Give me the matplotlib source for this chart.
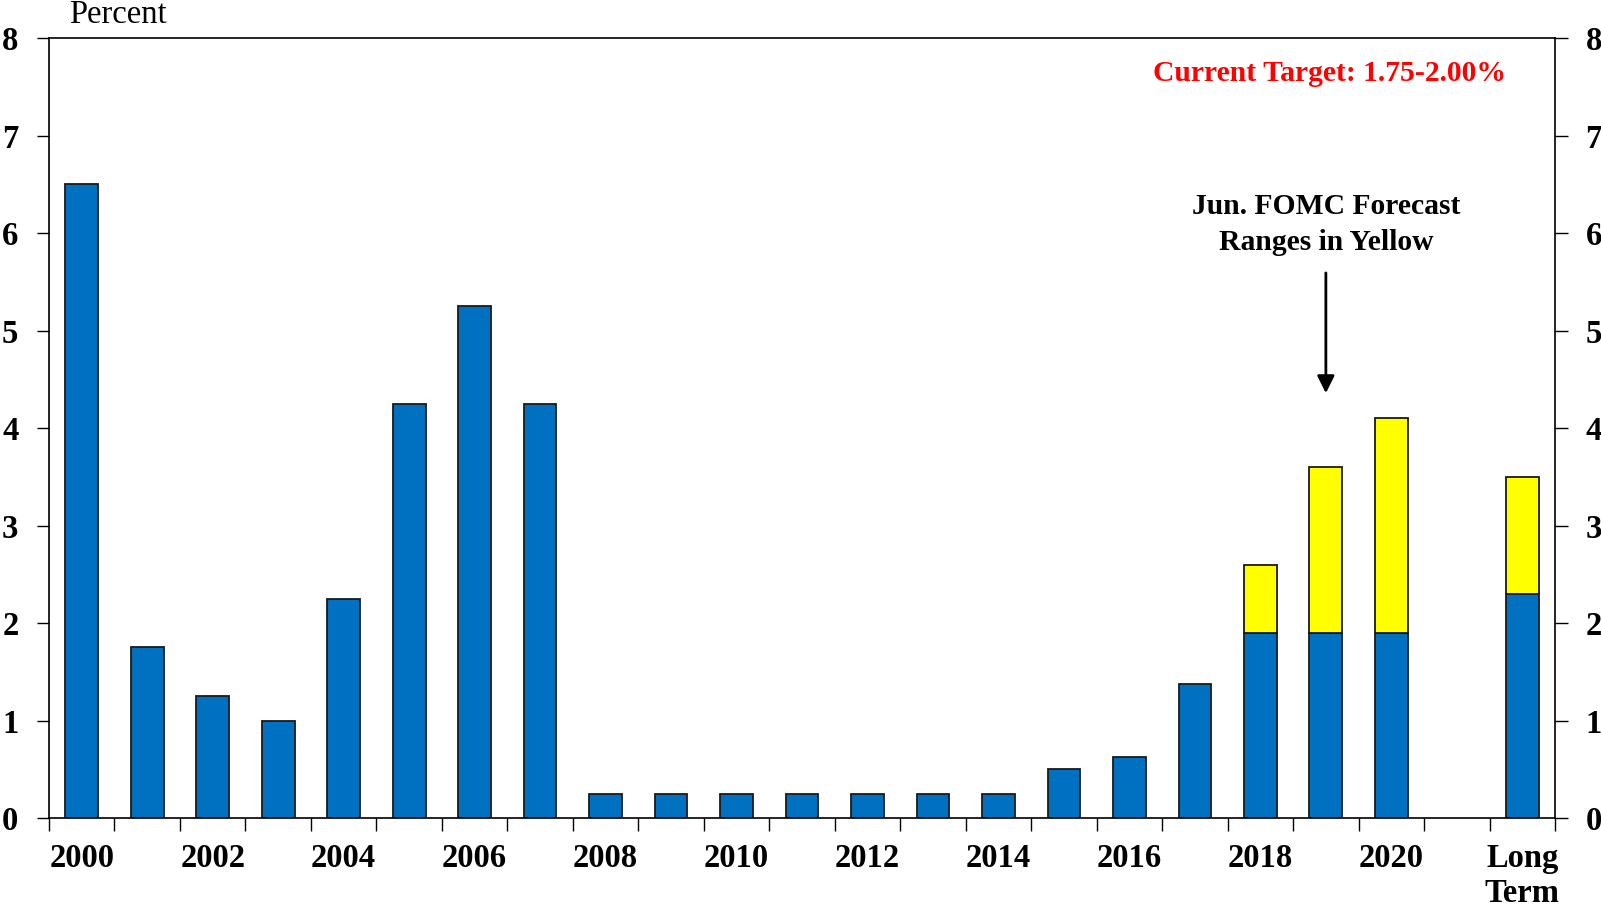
import numpy as np
import matplotlib.pyplot as plt

# Fed funds rate (year-end) and FOMC forecast ranges
categories = [str(y) for y in range(2000, 2021)] + ['', 'Long\nTerm']
rate = [6.5, 1.75, 1.25, 1.0, 2.25, 4.25, 5.25, 4.25, 0.25, 0.25, 0.25, 0.25,
        0.25, 0.25, 0.25, 0.5, 0.625, 1.375, 1.9, 1.9, 1.9, 0, 2.3]
forecast_top = [0] * 18 + [2.6, 3.6, 4.1, 0, 3.5]
tick_labels = [c if (i % 2 == 0 or i == 22) and i != 21 else '' for i, c in enumerate(categories)]

plt.rcParams['font.family'] = 'Liberation Serif'
plt.rcParams['font.weight'] = 'bold'

fig = plt.figure(figsize=(16.01, 9.07), dpi=100)
ax = fig.add_axes([0.0306, 0.098, 0.9407, 0.860])

x = np.arange(len(categories))
rate = np.array(rate)
forecast_top = np.array(forecast_top)
yellow = np.where(forecast_top > 0, forecast_top - rate, 0)
mask = rate > 0
ax.bar(x[mask], rate[mask], width=0.5, color='#0070C0', edgecolor='#1a1a1a', linewidth=1.3, zorder=2)
ym = yellow > 0
ax.bar(x[ym], yellow[ym], bottom=rate[ym], width=0.5, color='#FFFF00', edgecolor='#1a1a1a', linewidth=1.3, zorder=2)

ax.set_xlim(-0.5, len(categories) - 0.5)
ax.set_ylim(0, 8)
ax.set_yticks(range(9))
ax.set_xticks(x)
ax.set_xticklabels(tick_labels, fontsize=23.5, fontweight='bold', va='top', linespacing=1.18)
ax.set_xticks(np.arange(-0.5, len(categories)), minor=True)
ax.tick_params(axis='x', which='major', length=0, pad=18)
ax.tick_params(axis='x', which='minor', length=9, width=1, direction='out')
ax.tick_params(axis='y', which='major', length=9, width=1, direction='out', labelsize=23.5,
               pad=13, left=True, right=True, labelleft=True, labelright=True)
for lab in ax.get_yticklabels():
    lab.set_fontweight('bold')
for s in ax.spines.values():
    s.set_linewidth(1.2)

fig.text(69 / 1601, 1 - 15 / 907, 'Percent', fontsize=23.5, fontweight='normal', ha='left', va='center')

ax.text(19.05, 7.64, 'Current Target: 1.75-2.00%', color='#FF0000', fontsize=21.3,
        fontweight='bold', ha='center', va='center')
ax.text(19.0, 6.09, 'Jun. FOMC Forecast\nRanges in Yellow', fontsize=21.3,
        fontweight='bold', ha='center', va='center', linespacing=1.4)
ax.annotate('', xy=(19.0, 4.33), xytext=(19.0, 5.62),
            arrowprops=dict(arrowstyle='-|>', color='black', lw=2, mutation_scale=26))

fig.savefig('out.png', dpi=100)
